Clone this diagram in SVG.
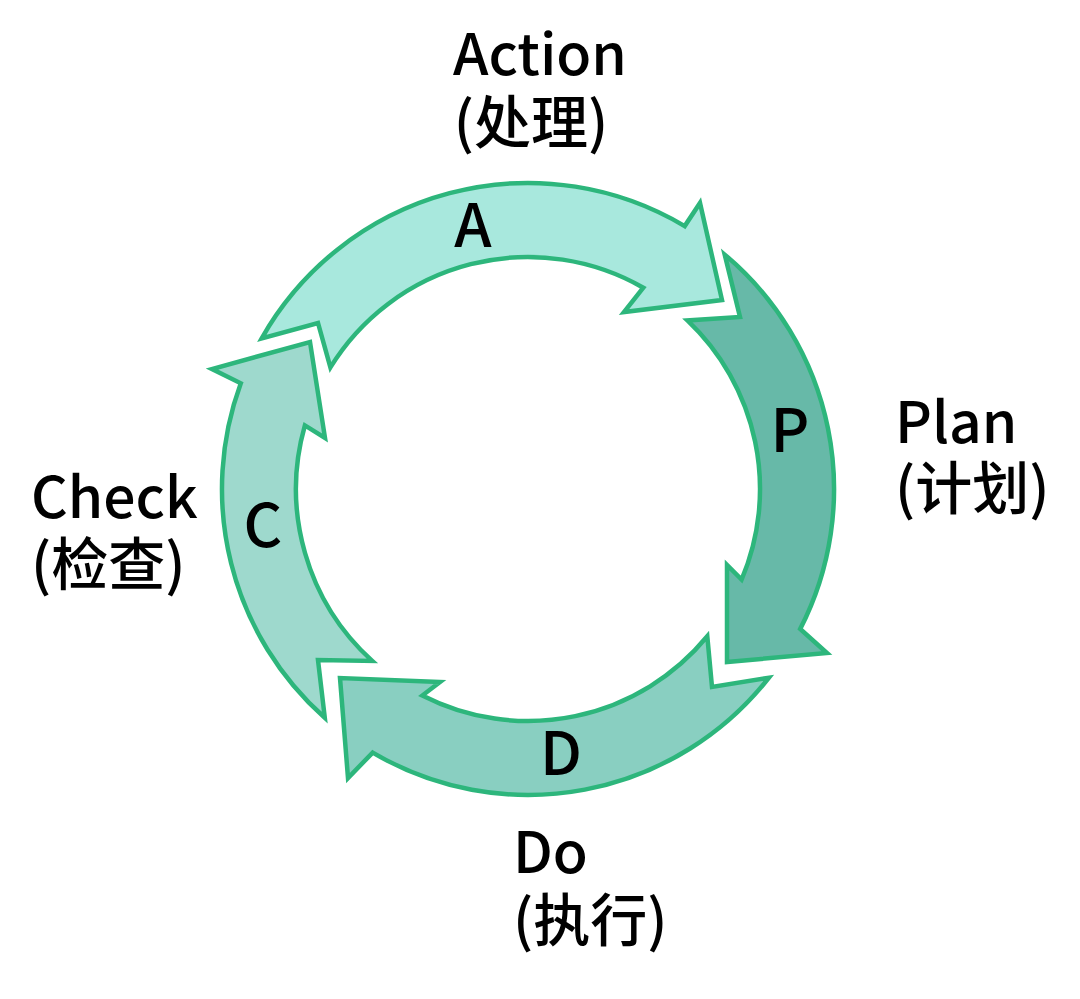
<svg xmlns="http://www.w3.org/2000/svg" width="1080" height="999" viewBox="0 0 1080 999">
<style>
.seg{stroke:#2db67c;stroke-width:4.5;stroke-linejoin:miter}
.t{font-family:"Noto Sans CJK SC","Noto Sans",sans-serif;font-size:57px;font-weight:500;fill:#000}
.l{font-family:"Noto Sans CJK SC","Noto Sans",sans-serif;font-size:60px;font-weight:500;fill:#000;text-anchor:middle}
</style>
<rect width="1080" height="999" fill="#fff"/>
<g id="connectors">
<g id="arrow-A">
<path class="seg" fill="#a8e8dd" d="M261.7,338.3 A306,306 0 0 1 684.7,226.1 L700,203 L722,300 L624,312 L643.3,287.7 A232,232 0 0 0 330.4,367.4 L318,323 Z"/>
<text class="l" x="473" y="247">A</text>
</g>
<g id="arrow-P">
<path class="seg" fill="#67b9a8" d="M724.7,254.6 A306,306 0 0 1 800.2,628.9 L827,653 L727,662 L727,565 L741.6,579.6 A232,232 0 0 0 687.4,320.4 L740,317 Z"/>
<text class="l" x="790" y="452">P</text>
</g>
<g id="arrow-D">
<path class="seg" fill="#89cfc1" d="M768.8,677.8 A306,306 0 0 1 372.7,752.6 L348,778 L340,678 L440,682 L422.3,695.5 A232,232 0 0 0 707.3,636.3 L712,687 Z"/>
<text class="l" x="561" y="775">D</text>
</g>
<g id="arrow-C">
<path class="seg" fill="#9ed9cd" d="M324.8,717.8 A306,306 0 0 1 240.8,383.3 L212,369 L310,342 L325,438 L304.9,425.4 A232,232 0 0 0 372.2,660.9 L318,660 Z"/>
<text class="l" x="263" y="547">C</text>
</g>
</g>
<g id="label-action">
<text class="t" x="540" y="75" text-anchor="middle">Action</text>
<text class="t" x="531" y="143" text-anchor="middle">(处理)</text>
</g>
<g id="label-plan">
<text class="t" x="895" y="443">Plan</text>
<text class="t" x="895" y="509">(计划)</text>
</g>
<g id="label-check">
<text class="t" x="31" y="518">Check</text>
<text class="t" x="31" y="585">(检查)</text>
</g>
<g id="label-do">
<text class="t" x="513" y="873">Do</text>
<text class="t" x="513" y="941">(执行)</text>
</g>
</svg>
